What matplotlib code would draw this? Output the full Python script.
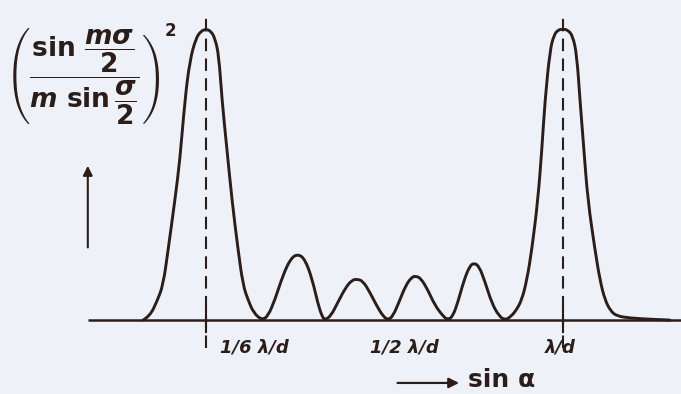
import matplotlib
matplotlib.use("Agg")
import matplotlib.pyplot as plt
from matplotlib.path import Path
from matplotlib.patches import PathPatch

# Intensity curve (x in units of lambda/d, y relative to main maximum)
x_vals = [
    -0.176, -0.157, -0.137, -0.120, -0.106, -0.087, -0.073, -0.059, -0.045, -0.028, -0.014,
    0.000, 0.014, 0.025, 0.036, 0.045, 0.059, 0.073, 0.090, 0.104, 0.118, 0.134, 0.157,
    0.174, 0.193, 0.216, 0.238, 0.258, 0.277, 0.297, 0.314, 0.325, 0.333,
    0.350, 0.370, 0.392, 0.409, 0.423, 0.440, 0.459, 0.479, 0.496, 0.510,
    0.524, 0.541, 0.560, 0.577, 0.588, 0.602, 0.622, 0.641, 0.664, 0.678,
    0.692, 0.706, 0.723, 0.739, 0.751, 0.765, 0.782, 0.801, 0.821, 0.838,
    0.852, 0.868, 0.885, 0.899, 0.913, 0.930, 0.941, 0.950, 0.964, 0.975, 0.986,
    1.000, 1.014, 1.028, 1.039, 1.048, 1.059, 1.070, 1.090, 1.104, 1.118, 1.134,
    1.151, 1.188, 1.244, 1.300,
]
y_vals = [
    0.000, 0.014, 0.065, 0.120, 0.241, 0.412, 0.550, 0.756, 0.893, 0.969, 0.993,
    1.000, 0.993, 0.969, 0.911, 0.756, 0.584, 0.412, 0.241, 0.120, 0.069, 0.024, 0.000,
    0.014, 0.069, 0.155, 0.213, 0.227, 0.210, 0.144, 0.055, 0.014, 0.000,
    0.014, 0.062, 0.113, 0.137, 0.141, 0.134, 0.096, 0.048, 0.014, 0.000,
    0.014, 0.062, 0.120, 0.148, 0.151, 0.144, 0.103, 0.052, 0.014, 0.000,
    0.014, 0.062, 0.137, 0.186, 0.196, 0.186, 0.131, 0.058, 0.014, 0.000,
    0.010, 0.031, 0.069, 0.137, 0.241, 0.412, 0.584, 0.756, 0.928, 0.979, 0.997,
    1.000, 0.997, 0.976, 0.911, 0.756, 0.584, 0.412, 0.241, 0.137, 0.069, 0.031,
    0.014, 0.007, 0.003, 0.000,
]

peak_positions = [0.0, 1.0]
tick_labels = ["1/6 λ/d", "1/2 λ/d", "λ/d"]
tick_label_x = [0.135, 0.555, 0.994]

BG = "#eef2f8"
INK = "#2b1e1a"

plt.rcParams["mathtext.fontset"] = "custom"
plt.rcParams["mathtext.rm"] = "DejaVu Sans:bold"
plt.rcParams["mathtext.it"] = "DejaVu Sans:bold:italic"
plt.rcParams["mathtext.bf"] = "DejaVu Sans:bold"

fig = plt.figure(figsize=(6.81, 3.94), dpi=100, facecolor=BG)
ax = fig.add_axes([0, 0, 1, 1])
ax.set_facecolor(BG)
ax.set_xlim(-0.577, 1.331)
ax.set_ylim(-0.254, 1.100)
ax.axis("off")

# baseline
ax.plot([-0.33, 1.331], [0, 0], color=INK, lw=1.8, solid_capstyle="butt")

# curve: smooth rendering of the read points (quadratic Bezier through midpoints)
pts = list(zip(x_vals, y_vals))
verts = [pts[0]]
codes = [Path.MOVETO]
for i in range(1, len(pts) - 1):
    mx = (pts[i][0] + pts[i + 1][0]) / 2
    my = (pts[i][1] + pts[i + 1][1]) / 2
    verts += [pts[i], (mx, my)]
    codes += [Path.CURVE3, Path.CURVE3]
verts.append(pts[-1])
codes.append(Path.LINETO)
ax.add_patch(PathPatch(Path(verts, codes), facecolor="none", edgecolor=INK,
                       lw=2.1, joinstyle="round", capstyle="round"))

# dashed verticals at main maxima
for xp in peak_positions:
    ax.plot([xp, xp], [-0.095, 1.05], color=INK, lw=1.5, linestyle=(0, (6, 3.5)))
    ax.plot([xp, xp], [-0.04, 0.05], color=INK, lw=1.5)

# tick labels
for lab, xl in zip(tick_labels, tick_label_x):
    ax.text(xl, -0.093, lab, ha="center", va="center", fontsize=13,
            color=INK, family="DejaVu Sans", style="italic", weight="bold")

# x arrow + label
ax.annotate("", xy=(0.717, -0.216), xytext=(0.529, -0.216),
            arrowprops=dict(arrowstyle="-|>", color=INK, lw=1.6, mutation_scale=15))
ax.text(0.733, -0.205, "sin α", ha="left", va="center", fontsize=18,
        color=INK, family="DejaVu Sans", weight="bold")

# y arrow
ax.annotate("", xy=(-0.331, 0.540), xytext=(-0.331, 0.240),
            arrowprops=dict(arrowstyle="-|>", color=INK, lw=1.5, mutation_scale=14))

# y label formula
ax.text(-0.562, 0.838,
        r"$\left(\dfrac{\mathrm{sin}\ \dfrac{m\sigma}{2}}{m\ \mathrm{sin}\,\dfrac{\sigma}{2}}\right)$",
        ha="left", va="center", fontsize=19, color=INK)
ax.text(-0.100, 0.992, "2", ha="center", va="center", fontsize=12,
        color=INK, family="DejaVu Sans", weight="bold")

fig.savefig("out.png", dpi=100, facecolor=BG)
